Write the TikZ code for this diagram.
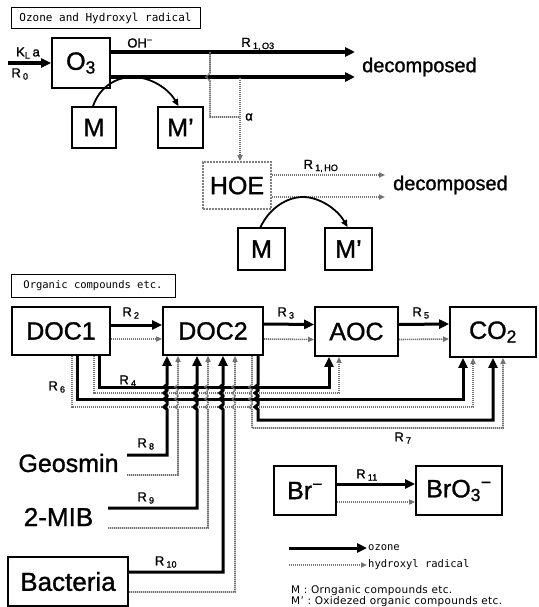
\documentclass[tikz,border=0pt]{standalone}
\usepackage{fontspec}
\setmainfont{Liberation Sans}
\setmonofont{DejaVu Sans Mono}
\newfontfamily\notefont{DejaVu Sans}[LetterSpace=3]
\newfontfamily\heavyfont{Liberation Sans}[FakeBold=1.2]
\usetikzlibrary{arrows.meta,positioning}

\tikzset{
  box/.style={draw, line width=1.7pt, inner sep=0pt, font=\heavyfont\fontsize{25}{25}\selectfont},
  hobox/.style={box, draw=black!50, dash pattern=on 2pt off 1pt},
  titlebox/.style={draw, line width=1pt, inner sep=0pt, font=\ttfamily\fontsize{11}{11}\selectfont},
  ozline/.style={line width=3pt},
  ozarrow/.style={ozline, -{Triangle[length=10pt,width=9pt]}},
  hrline/.style={draw=black!55, line width=1.6pt, dash pattern=on 1.3pt off 0.7pt},
  hrarrow/.style={hrline, -{Triangle[length=6pt,width=5pt]}},
  bendarrow/.style={line width=1.8pt, -{Triangle[length=7pt,width=6pt]}},
  rlabel/.style={font=\heavyfont\fontsize{13}{13}\selectfont, inner sep=0pt},
  biglabel/.style={font=\heavyfont\fontsize{25}{25}\selectfont, inner sep=0pt},
  declabel/.style={font=\heavyfont\fontsize{20}{20}\selectfont, inner sep=0pt, anchor=west},
}
\newcommand{\Rsub}[1]{R\,\textsubscript{#1}}

\begin{document}
\begin{tikzpicture}[x=1pt,y=-1pt]
\useasboundingbox (0,0) rectangle (538,607);

% Ozone and hydroxyl radical
\node[titlebox, minimum width=189pt, minimum height=21pt] (title1) at (105.5,18.5) {Ozone and Hydroxyl radical};
\node[box, minimum width=58pt, minimum height=50pt] (O3) at (81,63) {O\textsubscript{3}};
\node[box, minimum width=44pt, minimum height=41pt] (M1) at (94,127.5) {M};
\node[box, minimum width=45pt, minimum height=41pt] (M1p) at (180.5,127.5) {M’};
\node[hobox, minimum width=68pt, minimum height=47pt] (HOE) at (237,185.5) {HOE};
\node[box, minimum width=47pt, minimum height=42pt] (M2) at (261.5,249) {M};
\node[box, minimum width=47pt, minimum height=42pt] (M2p) at (348.5,249) {M’};
\node[declabel] (dec1) at (362,67) {decomposed};
\node[declabel] (dec2) at (393,185) {decomposed};

\coordinate (kin) at (8,63);
\coordinate (o3a) at (355,52);
\coordinate (o3b) at (355,77);
\draw[ozarrow, line width=4pt] (kin) -- (O3.west);
\draw[ozarrow, line width=4pt] (O3.east |- o3a) -- (o3a);
\draw[ozarrow, line width=4pt] (O3.east |- o3b) -- (o3b);
\node[rlabel] at (28,53) {K\textsubscript{L}\,a};
\node[rlabel] at (20,74) {\Rsub{0}};
\node[rlabel] at (140,43) {OH\textsuperscript{−}};
\node[rlabel] at (258,44) {\Rsub{1,\,O3}};

\coordinate (ohtop) at (210,52);
\coordinate (ohjoin) at (240,117);
\coordinate (hoein) at (240,78);
\draw[hrline] (ohtop) -- (210,73) -- (206,77) -- (210,81) -- (210,117) -- (ohjoin);
\draw[hrarrow] (hoein) -- (hoein |- HOE.north);
\node[rlabel] at (249,117) {α};

\coordinate (peak1) at (133,77);
\draw[bendarrow] ([xshift=-1pt]M1.north) .. controls (100,86) and (117,77) .. (peak1)
  .. controls (150,77) and (168,88) .. ([xshift=-2pt]M1p.north);

\coordinate (hoa) at (385,175);
\coordinate (hob) at (385,197);
\draw[hrarrow] (HOE.east |- hoa) -- (hoa);
\draw[hrarrow] (HOE.east |- hob) -- (hob);
\node[rlabel] at (321,166) {\Rsub{1,\,HO}};

\coordinate (peak2) at (303,197);
\draw[bendarrow] ([xshift=-1pt]M2.north) .. controls (270,207) and (288,197) .. (peak2)
  .. controls (320,197) and (338,210) .. ([xshift=-1pt]M2p.north);

% Organic compounds
\node[titlebox, minimum width=164pt, minimum height=23pt, font=\ttfamily\fontsize{10.5}{10.5}\selectfont] (title2) at (93,285.5) {Organic compounds etc.};
\node[box, minimum width=98pt, minimum height=48pt] (DOC1) at (61,331) {DOC1};
\node[box, minimum width=100pt, minimum height=48pt] (DOC2) at (213,331) {DOC2};
\node[box, minimum width=83pt, minimum height=49pt] (AOC) at (356.5,331.5) {AOC};
\node[box, minimum width=86pt, minimum height=50pt] (CO2) at (493,332) {CO\textsubscript{2}};

\draw[ozarrow] ([yshift=6pt]DOC1.east) -- ([yshift=6pt]DOC2.west);
\draw[hrarrow] ([yshift=-8pt]DOC1.east) -- ([yshift=-8pt]DOC2.west);
\draw[ozarrow] ([yshift=7pt]DOC2.east) -- ([yshift=7pt]AOC.west);
\draw[hrarrow] ([yshift=-8pt]DOC2.east) -- ([yshift=-8pt]AOC.west);
\draw[ozarrow] ([yshift=7pt]AOC.east) -- ([yshift=8pt]CO2.west);
\draw[hrarrow] ([yshift=-8pt]AOC.east) -- ([yshift=-7pt]CO2.west);
\node[rlabel] at (131,313) {\Rsub{2}};
\node[rlabel] at (286,313) {\Rsub{3}};
\node[rlabel] at (421,313) {\Rsub{5}};

% feedback routes
\draw[ozarrow] ([xshift=38pt]DOC1.south) |- (329,387) -- ([xshift=-27.5pt]AOC.south);
\draw[hrarrow] ([xshift=33pt]DOC1.south) |- (339,393) -- ([xshift=-17.5pt]AOC.south);
\draw[ozarrow] ([xshift=16pt]DOC1.south) |- (463,399) -- ([xshift=-30pt]CO2.south);
\draw[hrarrow] ([xshift=11pt]DOC1.south) |- (473,407) -- ([xshift=-20pt]CO2.south);
\draw[ozarrow] ([xshift=45pt]DOC2.south)
  foreach \yc in {387,393,399,407} { -- (258,\yc-2.5) -- (255,\yc) -- (258,\yc+2.5) }
  -- (258,420) -- (493,420) -- (CO2.south);
\draw[hrarrow] ([xshift=39pt]DOC2.south)
  foreach \yc in {387,393,399,407} { -- (252,\yc-2.5) -- (249,\yc) -- (252,\yc+2.5) }
  -- (252,428) -- (503,428) -- ([xshift=10pt]CO2.south);
\node[rlabel] at (128,381) {\Rsub{4}};
\node[rlabel] at (57,387) {\Rsub{6}};
\node[rlabel] at (403,438) {\Rsub{7}};

% inputs
\node[biglabel] (geo) at (68.5,463) {Geosmin};
\node[biglabel, font=\heavyfont\fontsize{26}{26}\selectfont] (mib) at (58.5,517) {2-MIB};
\node[box, minimum width=120pt, minimum height=49pt, font=\heavyfont\fontsize{26}{26}\selectfont] (bact) at (68,581.5) {Bacteria};
\coordinate (geoT) at (127,455);
\coordinate (geoG) at (127,475);
\coordinate (mibT) at (108,508);
\coordinate (mibG) at (108,528);

\draw[ozarrow] (geoT) -- (167,455)
  foreach \yc in {407,399,393,387} { -- (167,\yc+2.5) -- (164,\yc) -- (167,\yc-2.5) }
  -- ([xshift=-46pt]DOC2.south);
\draw[hrarrow] (geoG) -- (178,475)
  foreach \yc in {407,399,393,387} { -- (178,\yc+2.5) -- (175,\yc) -- (178,\yc-2.5) }
  -- ([xshift=-35pt]DOC2.south);
\draw[ozarrow] (mibT) -- (197,508)
  foreach \yc in {407,399,393,387} { -- (197,\yc+2.5) -- (194,\yc) -- (197,\yc-2.5) }
  -- ([xshift=-16pt]DOC2.south);
\draw[hrarrow] (mibG) -- (208,528)
  foreach \yc in {407,399,393,387} { -- (208,\yc+2.5) -- (205,\yc) -- (208,\yc-2.5) }
  -- ([xshift=-5pt]DOC2.south);
\draw[ozarrow] ([yshift=9.5pt]bact.east) -- (223,572)
  foreach \yc in {407,399,393,387} { -- (223,\yc+2.5) -- (220,\yc) -- (223,\yc-2.5) }
  -- ([xshift=10pt]DOC2.south);
\draw[hrarrow] ([yshift=-10.5pt]bact.east) -- (235,592)
  foreach \yc in {407,399,393,387} { -- (235,\yc+2.5) -- (232,\yc) -- (235,\yc-2.5) }
  -- ([xshift=22pt]DOC2.south);
\node[rlabel] at (146,444) {\Rsub{8}};
\node[rlabel] at (146,498) {\Rsub{9}};
\node[rlabel] at (166,562) {\Rsub{10}};

% bromate
\node[box, minimum width=62pt, minimum height=49pt] (Br) at (305,490.5) {Br\textsuperscript{−}};
\node[box, minimum width=86pt, minimum height=49pt] (BrO3) at (459,490.5) {BrO\textsubscript{3}\textsuperscript{−}};
\draw[ozarrow] ([yshift=6.5pt]Br.east) -- ([yshift=6.5pt]BrO3.west);
\draw[hrarrow] ([yshift=-11.5pt]Br.east) -- ([yshift=-11.5pt]BrO3.west);
\node[rlabel] at (367,475) {\Rsub{11}};

% legend
\coordinate (lgA) at (289,548);
\coordinate (lgAe) at (367,548);
\coordinate (lgB) at (289,565);
\coordinate (lgBe) at (367,565);
\draw[ozarrow] (lgA) -- (lgAe);
\draw[hrarrow] (lgB) -- (lgBe);
\node[anchor=west, inner sep=1pt, font=\ttfamily\fontsize{10.5}{10.5}\selectfont] at (lgAe) {ozone};
\node[anchor=west, inner sep=1pt, font=\ttfamily\fontsize{10.5}{10.5}\selectfont] at (lgBe) {hydroxyl radical};
\node[anchor=north west, inner sep=0pt, align=left, font=\notefont\fontsize{10.5}{10}\selectfont] (note) at (291,585)
  {M : Ornganic compounds etc.\\M’ : Oxidezed organic compounds etc.};
\end{tikzpicture}
\end{document}
